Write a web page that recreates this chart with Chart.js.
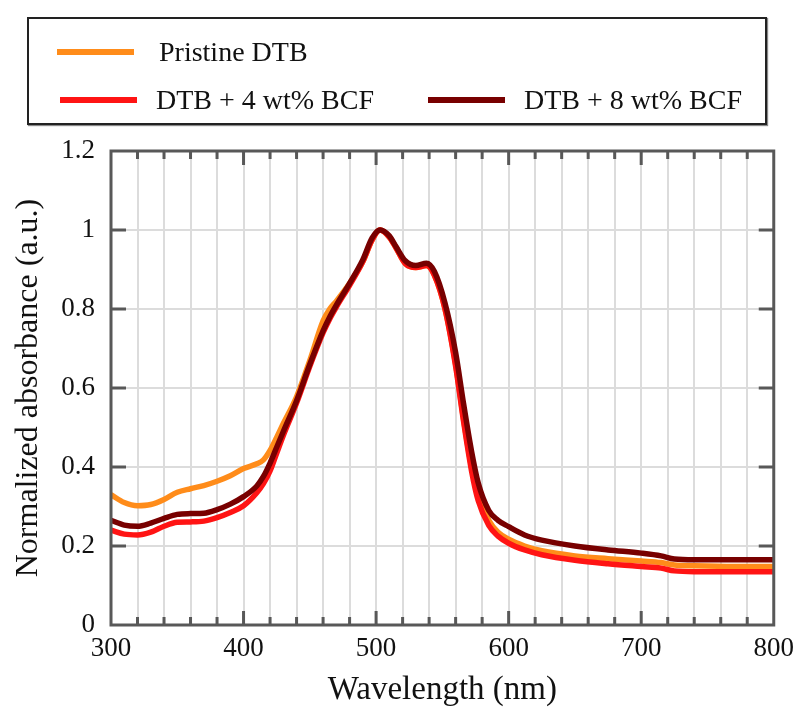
<!DOCTYPE html>
<html>
<head>
<meta charset="utf-8">
<script src="https://cdn.jsdelivr.net/npm/chart.js@4/dist/chart.umd.min.js"></script>
<style>
  html, body { margin: 0; padding: 0; background: #fff; }
  #wrap { position: relative; width: 802px; height: 707px; }
  #legend {
    position: absolute; left: 27px; top: 17px; width: 736px; height: 104px;
    border: 2px solid #222; box-shadow: 1px 1px 1px #888;
    font-family: 'Liberation Serif', 'Times New Roman', serif; font-size: 28px; color: #111;
  }
  .item { position: absolute; display: flex; align-items: center; height: 34px; }
  .item .swatch { height: 6px; width: 77px; }
  .item span { white-space: nowrap; }
</style>
</head>
<body>
<div id="wrap">
  <canvas id="chart" width="802" height="707"></canvas>
  <div id="legend"></div>
</div>
<script>
// absorbance spectra
const wavelengths = [300, 310, 320, 330, 340, 350, 360, 370, 380, 390, 400, 410, 415, 420, 425, 430, 440, 450, 460, 465, 470, 480, 490, 497, 503, 510, 515, 522, 530, 538, 544, 552, 560, 566, 572, 577, 585, 592, 600, 612, 625, 650, 675, 700, 715, 725, 740, 770, 800];

const pristine = [0.33, 0.31, 0.302, 0.305, 0.318, 0.336, 0.345, 0.353, 0.364, 0.378, 0.396, 0.408, 0.418, 0.442, 0.475, 0.51, 0.578, 0.67, 0.77, 0.80, 0.82, 0.865, 0.92, 0.975, 1.0, 0.982, 0.955, 0.915, 0.905, 0.91, 0.885, 0.8, 0.66, 0.52, 0.4, 0.33, 0.265, 0.235, 0.217, 0.2, 0.188, 0.175, 0.168, 0.162, 0.158, 0.152, 0.15, 0.148, 0.148];
const bcf4 = [0.24, 0.23, 0.228, 0.235, 0.25, 0.26, 0.261, 0.263, 0.272, 0.285, 0.302, 0.335, 0.358, 0.39, 0.435, 0.48, 0.562, 0.655, 0.74, 0.775, 0.805, 0.86, 0.92, 0.975, 1.0, 0.982, 0.955, 0.915, 0.905, 0.91, 0.885, 0.8, 0.655, 0.515, 0.39, 0.315, 0.252, 0.225, 0.207, 0.19, 0.178, 0.164, 0.155, 0.148, 0.144, 0.137, 0.135, 0.135, 0.135];
const bcf8 = [0.265, 0.253, 0.25, 0.258, 0.27, 0.28, 0.282, 0.283, 0.292, 0.306, 0.325, 0.352, 0.376, 0.41, 0.45, 0.49, 0.568, 0.66, 0.745, 0.78, 0.81, 0.865, 0.925, 0.98, 1.0, 0.985, 0.958, 0.922, 0.91, 0.916, 0.895, 0.815, 0.69, 0.56, 0.44, 0.36, 0.29, 0.265, 0.249, 0.228, 0.215, 0.2, 0.19, 0.182, 0.175, 0.167, 0.165, 0.165, 0.165];

const seriesLabels = ['Pristine DTB', 'DTB + 4 wt% BCF', 'DTB + 8 wt% BCF'];
const seriesColors = ['#ff8c1a', '#ff1414', '#780000'];
const seriesValues = [pristine, bcf4, bcf8];

const xTicks = [300, 400, 500, 600, 700, 800];
const yTicks = ['0', '0.2', '0.4', '0.6', '0.8', '1', '1.2'];

const serif = "'Liberation Serif', 'Times New Roman', serif";

// legend slots: [left, top] inside the box, and where the text starts
const legendSlots = [[28, 16], [31, 64], [399, 64]];
const legendText = [102, 96, 96];

// frame + inward ticks on all four sides
const framePlugin = {
  id: 'frame',
  afterDraw(chart) {
    const { ctx, chartArea: a, scales } = chart;
    ctx.save();
    ctx.strokeStyle = '#585858';
    ctx.lineWidth = 3;
    ctx.strokeRect(a.left, a.top, a.right - a.left, a.bottom - a.top);
    ctx.beginPath();
    for (let v = 320; v < 800; v += 20) {
      const x = scales.x.getPixelForValue(v);
      const len = v % 100 === 0 ? 14 : 8;
      ctx.moveTo(x, a.bottom); ctx.lineTo(x, a.bottom - len);
      ctx.moveTo(x, a.top); ctx.lineTo(x, a.top + len);
    }
    for (let i = 1; i < yTicks.length - 1; i++) {
      const y = scales.y.getPixelForValue(parseFloat(yTicks[i]));
      ctx.moveTo(a.left, y); ctx.lineTo(a.left + 15, y);
      ctx.moveTo(a.right, y); ctx.lineTo(a.right - 15, y);
    }
    ctx.stroke();
    ctx.restore();
  }
};

const datasets = seriesLabels.map((label, i) => ({
  label: label,
  data: wavelengths.map((w, j) => ({ x: w, y: seriesValues[i][j] })),
  borderColor: seriesColors[i],
  borderWidth: 5.5,
  pointRadius: 0,
  cubicInterpolationMode: 'monotone',
  order: seriesLabels.length - i
}));

new Chart(document.getElementById('chart'), {
  type: 'line',
  data: { datasets: datasets },
  plugins: [framePlugin],
  options: {
    responsive: false,
    animation: false,
    layout: { padding: { top: 151, right: 25, left: 0, bottom: 0 } },
    plugins: { legend: { display: false }, tooltip: { enabled: false } },
    scales: {
      x: {
        type: 'linear', min: 300, max: 800,
        border: { display: false },
        grid: { color: '#dcdcdc', lineWidth: 2, drawTicks: false },
        ticks: {
          stepSize: 20, autoSkip: false, maxRotation: 0, padding: 8, color: '#111',
          font: { family: serif, size: 27 },
          callback: v => xTicks.includes(v) ? String(v) : ''
        },
        title: { display: true, text: 'Wavelength (nm)', color: '#111', padding: 0,
                 font: { family: serif, size: 33, lineHeight: 1 } },
        afterFit: s => { s.height = 82; }
      },
      y: {
        min: 0, max: 1.2,
        border: { display: false },
        grid: { color: '#dcdcdc', lineWidth: 2, drawTicks: false },
        ticks: {
          stepSize: 0.2, padding: 16, color: '#111',
          font: { family: serif, size: 27 },
          callback: (v, i) => yTicks[i]
        },
        title: { display: true, text: 'Normalized absorbance (a.u.)', color: '#111',
                 padding: { top: 9, bottom: 0 }, font: { family: serif, size: 32 } },
        afterFit: s => { s.width = 111; }
      }
    }
  }
});

// legend box built from the series
const legend = document.getElementById('legend');
seriesLabels.forEach((label, i) => {
  const item = document.createElement('div');
  item.className = 'item';
  item.style.left = legendSlots[i][0] + 'px';
  item.style.top = legendSlots[i][1] + 'px';
  const sw = document.createElement('div');
  sw.className = 'swatch';
  sw.style.background = seriesColors[i];
  sw.style.marginRight = (legendText[i] - 77) + 'px';
  const t = document.createElement('span');
  t.textContent = label;
  item.appendChild(sw);
  item.appendChild(t);
  legend.appendChild(item);
});
</script>
</body>
</html>
